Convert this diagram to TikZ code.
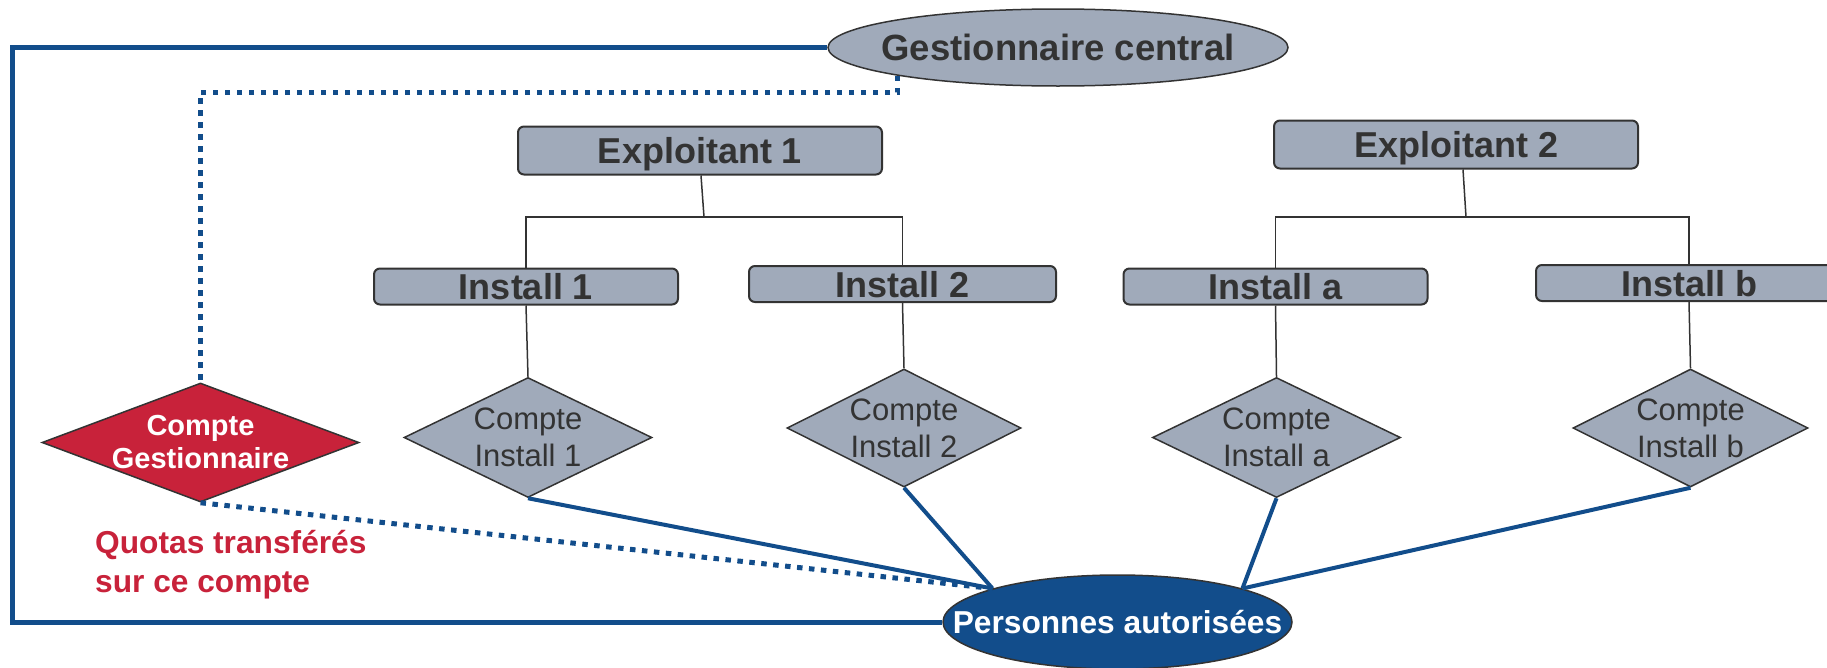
\documentclass[tikz,border=0pt]{standalone}
\usepackage{fontspec}
\setmainfont{Liberation Sans}
\usetikzlibrary{shapes.geometric}
\definecolor{boxgray}{HTML}{A0AABA}
\definecolor{navy}{HTML}{124D8B}
\definecolor{redc}{HTML}{C8223A}
\definecolor{darkt}{HTML}{333333}
\tikzset{
  graybox/.style={draw=darkt, line width=2pt, fill=boxgray, rounded corners=6pt,
    inner sep=0pt, text=darkt, font=\fontsize{36}{40}\selectfont\bfseries,
    text height=26pt, text depth=0pt},
  compte/.style={diamond, draw=darkt, line width=1.5pt, fill=boxgray, inner sep=0pt},
  dtext/.style={text=darkt, align=center, font=\fontsize{31}{37}\selectfont},
  tree/.style={draw=darkt, line width=1.5pt},
  link/.style={draw=navy, line width=4pt},
  frame/.style={draw=navy, line width=5pt},
  dots/.style={draw=navy, line width=5pt, dash pattern=on 5.5pt off 6.5pt},
}
\begin{document}
\begin{tikzpicture}[x=1pt,y=-1pt]
\useasboundingbox (0,0) rectangle (1827,667);
% top ellipse
\node[ellipse, draw=darkt, line width=1.5pt, fill=boxgray, minimum width=460pt, minimum height=77pt, inner sep=0pt,
  label={[text=darkt, font=\fontsize{36.5}{40}\selectfont\bfseries]center:Gestionnaire central}] (gc) at (1058,47.5) {};
% exploitants
\node[graybox, minimum width=364pt, minimum height=48pt] (e1) at (700,150.5) {Exploitant 1};
\node[graybox, minimum width=364pt, minimum height=48pt] (e2) at (1456,144.5) {Exploitant 2};
% installs
\node[graybox, minimum width=304pt, minimum height=36pt] (i1) at (526,286.5) {Install 1};
\node[graybox, minimum width=307pt, minimum height=36pt] (i2) at (902.5,284) {Install 2};
\node[graybox, minimum width=304pt, minimum height=36pt] (ia) at (1275.5,286.5) {Install a};
\node[graybox, minimum width=306pt, minimum height=36pt] (ib) at (1689,283) {Install b};
% comptes
\node[compte, minimum width=248pt, minimum height=120pt,
  label={[dtext]center:Compte\\Install 1}] (c1) at (528,437.5) {};
\node[compte, minimum width=234pt, minimum height=118pt,
  label={[dtext]center:Compte\\Install 2}] (c2) at (904,428) {};
\node[compte, minimum width=248pt, minimum height=120pt,
  label={[dtext]center:Compte\\Install a}] (ca) at (1276.5,437.5) {};
\node[compte, minimum width=235pt, minimum height=118pt,
  label={[dtext]center:Compte\\Install b}] (cb) at (1690.5,428) {};
\node[diamond, draw=darkt, line width=1.5pt, fill=redc, inner sep=0pt, minimum width=317pt, minimum height=119pt,
  label={[text=white, align=center, font=\fontsize{29}{33}\selectfont\bfseries]center:Compte\\Gestionnaire}] (gm) at (200.5,442.5) {};
% bottom ellipse
\node[ellipse, draw=darkt, line width=1.5pt, fill=navy, minimum width=349pt, minimum height=94pt, inner sep=0pt,
  label={[text=white, font=\fontsize{31.7}{36}\selectfont\bfseries]center:Personnes autorisées}] (pa) at (1117.5,622) {};
% red note
\node[anchor=base west, align=left, inner sep=0pt, text=redc, font=\fontsize{31.7}{39}\selectfont\bfseries] (note) at (95,592) {Quotas transférés\\sur ce compte};
% tree
\coordinate (j1) at (704,217);
\coordinate (j2) at (1466,217);
\draw[tree] ([xshift=1pt]e1.south) -- (j1);
\draw[tree] (i1.north) |- (j1) -| (i2.north);
\draw[tree] ([xshift=7pt]e2.south) -- (j2);
\draw[tree] (ia.north) |- (j2) -| (ib.north);
\draw[tree] (i1.south) -- (c1.north);
\draw[tree] (i2.south) -- (c2.north);
\draw[tree] (ia.south) -- (ca.north);
\draw[tree] (ib.south) -- (cb.north);
% frame
\coordinate (fl) at (12,300);
\draw[frame] (gc.west) -| (fl) |- (pa.west);
% dotted
\coordinate (dt) at (550,92);
\draw[dots] (gc.190) |- (dt) -| (gm.north);
\draw[dots] (gm.south) -- (pa.165);
% links
\draw[link] (c1.south) -- (pa.165);
\draw[link] (c2.south) -- (pa.165);
\draw[link] (ca.south) -- (pa.15);
\draw[link] (cb.south) -- (pa.15);
\end{tikzpicture}
\end{document}
